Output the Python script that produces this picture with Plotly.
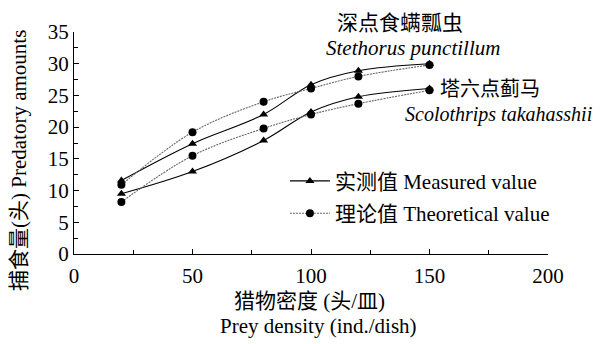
import plotly.graph_objects as go

prey_density = [20, 50, 80, 100, 120, 150]
steth_measured = [11.6, 17.4, 22.0, 26.7, 28.9, 30.0]
steth_theoretical = [10.9, 19.2, 24.0, 26.1, 28.0, 29.8]
scolo_measured = [9.5, 13.0, 17.9, 22.4, 24.8, 26.1]
scolo_theoretical = [8.2, 15.5, 19.8, 22.0, 23.7, 25.8]

x_ticks = [0, 50, 100, 150, 200]
y_ticks = [0, 5, 10, 15, 20, 25, 30, 35]

FONT = "Liberation Serif, Times New Roman, Noto Sans CJK SC, serif"
FS = 21

fig = go.Figure()

meas_style = dict(mode="lines+markers", line=dict(color="black", width=1.1, shape="spline"),
                  marker=dict(symbol="triangle-up", size=8, color="black"))
theo_style = dict(mode="lines+markers", line=dict(color="#666666", width=1.1, shape="spline", dash="2px,1px"),
                  marker=dict(symbol="circle", size=8, color="black"))

fig.add_trace(go.Scatter(x=prey_density, y=steth_measured, name="实测值 Measured value",
                         legendgroup="m", showlegend=True, **meas_style))
fig.add_trace(go.Scatter(x=prey_density, y=steth_theoretical, name="理论值 Theoretical value",
                         legendgroup="t", showlegend=True, **theo_style))
fig.add_trace(go.Scatter(x=prey_density, y=scolo_measured, name="实测值 Measured value",
                         legendgroup="m", showlegend=False, **meas_style))
fig.add_trace(go.Scatter(x=prey_density, y=scolo_theoretical, name="理论值 Theoretical value",
                         legendgroup="t", showlegend=False, **theo_style))

axis_common = dict(showgrid=False, zeroline=False, showline=True, linecolor="black", linewidth=1.2,
                   ticks="inside", ticklen=5, tickcolor="black", tickwidth=1.2,
                   tickfont=dict(family=FONT, size=FS, color="black"))

# page body has an 8px default margin, so the figure is drawn 8px smaller
fig.update_layout(
    width=593, height=336,
    margin=dict(l=66, r=53, t=17, b=90),
    paper_bgcolor="white", plot_bgcolor="white",
    font=dict(family=FONT, color="black"),
    showlegend=True,
    legend=dict(x=0.445, y=0.42, xanchor="left", yanchor="top", bgcolor="rgba(0,0,0,0)",
                font=dict(family=FONT, size=FS, color="black"), tracegroupgap=2,
                itemwidth=40),
    xaxis=dict(range=[0, 200], tickvals=x_ticks, ticktext=[str(v) for v in x_ticks],
               ticklabelstandoff=3,
               minor=dict(dtick=25, tick0=0, ticks="inside", ticklen=4, tickcolor="black", tickwidth=1.2),
               **axis_common),
    yaxis=dict(range=[0, 35], tickvals=y_ticks, ticktext=[str(v) for v in y_ticks],
               minor=dict(dtick=2.5, tick0=0, ticks="inside", ticklen=4, tickcolor="black", tickwidth=1.2),
               **axis_common),
    xaxis2=dict(range=[0, 200], overlaying="x", anchor="y", side="bottom", tickvals=x_ticks,
                showticklabels=False, ticks="outside", ticklen=5, tickcolor="black", tickwidth=1.2,
                showgrid=False, zeroline=False, showline=False),
    yaxis2=dict(range=[0, 35], overlaying="y", anchor="x", side="left", tickvals=y_ticks,
                showticklabels=False, ticks="outside", ticklen=5, tickcolor="black", tickwidth=1.2,
                showgrid=False, zeroline=False, showline=False),
)

# positions in screen pixels (plot area: x 74..548, y 25..254)
annotations = [
    dict(text="深点食螨瓢虫", x=400, y=16, size=21),
    dict(text="<i>Stethorus punctillum</i>", x=413, y=41, size=21),
    dict(text="塔六点蓟马", x=490, y=84, size=20),
    dict(text="<i>Scolothrips takahasshii</i>", x=498, y=110, size=20),
    dict(text="猎物密度 (头/皿)", x=309, y=302, size=21),
    dict(text="Prey density (ind./dish)", x=318, y=328, size=21),
]
for a in annotations:
    fig.add_annotation(text=a["text"], xref="paper", yref="paper",
                       x=(a["x"] - 74) / 474, y=(254 - a["y"]) / 229,
                       xanchor="center", yanchor="middle", showarrow=False,
                       font=dict(family=FONT, size=a["size"], color="black"))

fig.add_annotation(text="捕食量(头) Predatory amounts", xref="paper", yref="paper",
                   x=(19 - 74) / 474, y=(254 - 158) / 229, xanchor="center", yanchor="middle",
                   textangle=-90, showarrow=False, font=dict(family=FONT, size=FS, color="black"))

fig.write_html("out.html")
